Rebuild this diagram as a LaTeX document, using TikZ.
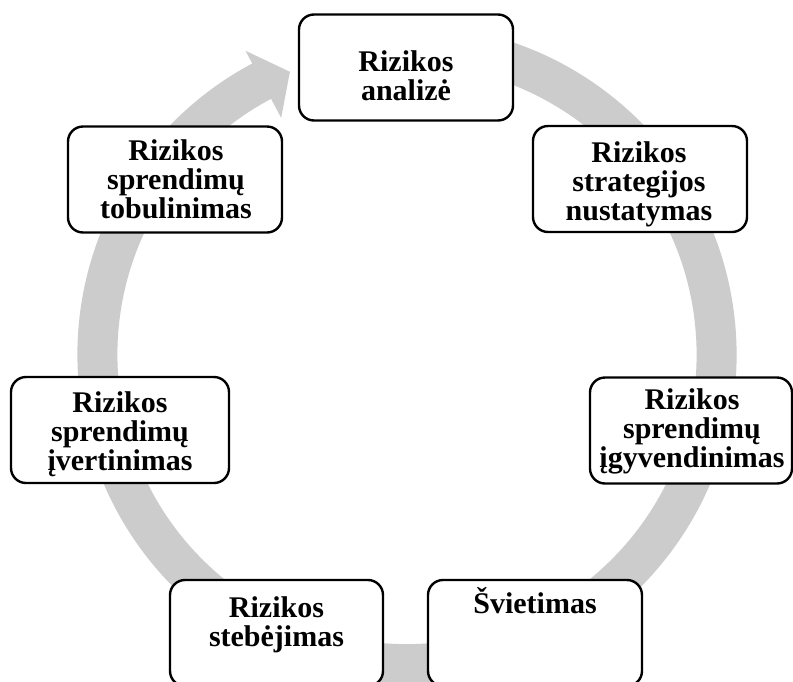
\documentclass[tikz,border=0pt]{standalone}
\usepackage{fontspec}
\setmainfont{Liberation Serif}
\usetikzlibrary{calc}
\definecolor{ringgray}{RGB}{204,204,204}
\begin{document}
\begin{tikzpicture}[x=1pt,y=1pt,
  box/.style={draw=black, line width=2.4pt, fill=white, rounded corners=15pt, inner sep=0pt, minimum height=106pt},
  lbl/.style={align=center, font=\bfseries\fontsize{30}{28.7}\selectfont, anchor=base, inner sep=0pt}]
\useasboundingbox (0,0) rectangle (793,-681);
\clip (0,0) rectangle (793,-681);
\fill[white] (0,0) rectangle (793,-681);
\coordinate (C) at (407,-354.5);
% ring arrow
\draw[ringgray, line width=40pt] ($(C)+(95:309.6)$) arc[start angle=95, end angle=-242.3, radius=309.6];
\fill[ringgray] ($(C)+(118:344)$) -- ($(C)+(112.5:306)$) -- ($(C)+(118:268)$) -- cycle;
% boxes
\node[box, minimum width=214pt] (b1) at (406,-67.5) {};
\node[box, minimum width=214pt] (b2) at (640,-179) {};
\node[box, minimum width=202pt] (b3) at (691,-430.5) {};
\node[box, minimum width=214pt] (b4) at (535,-633) {};
\node[box, minimum width=213pt] (b5) at (276.5,-633) {};
\node[box, minimum width=218pt] (b6) at (120,-430) {};
\node[box, minimum width=214pt] (b7) at (175,-179.5) {};
% labels (anchor = baseline of last line)
\node[lbl] (t1) at (406,-100) {Rizikos\\analizė};
\node[lbl] (t2) at (639,-220) {Rizikos\\strategijos\\nustatymas};
\node[lbl] (t3) at (692,-467) {Rizikos\\sprendimų\\įgyvendinimas};
\node[lbl] (t4) at (535,-613) {Švietimas};
\node[lbl] (t5) at (276.5,-646) {Rizikos\\stebėjimas};
\node[lbl] (t6) at (120,-470) {Rizikos\\sprendimų\\įvertinimas};
\node[lbl] (t7) at (176,-218) {Rizikos\\sprendimų\\tobulinimas};
\end{tikzpicture}
\end{document}
